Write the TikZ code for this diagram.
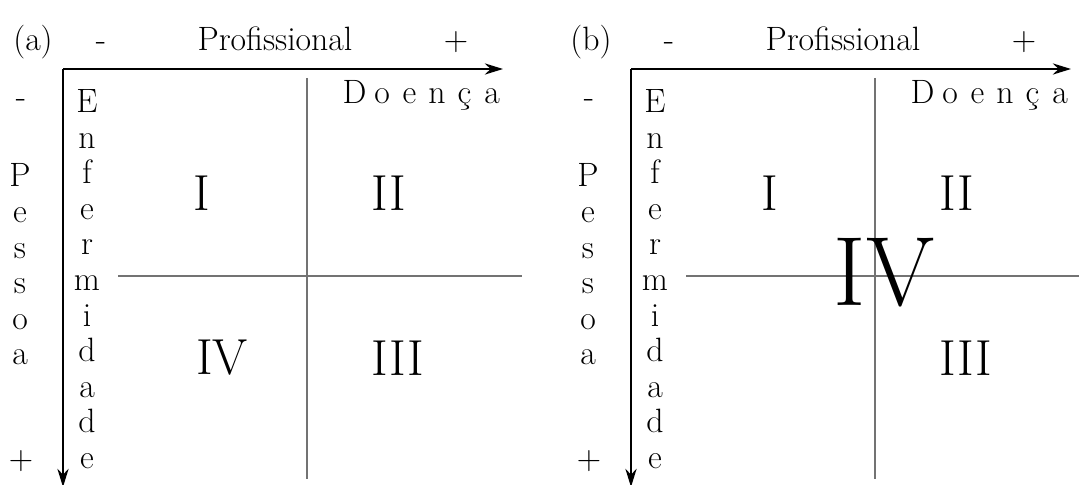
\documentclass[tikz,border=0pt]{standalone}
\usepackage{fontspec}
\usetikzlibrary{arrows.meta}

\tikzset{
  rotulo/.style={font=\fontsize{24}{26}\selectfont, anchor=base, inner sep=0pt},
  numeral/.style={font=\fontsize{36}{40}\selectfont, inner sep=0pt},
  eixo/.style={line width=1.3pt, -{Stealth[length=13pt,width=8pt]}},
  divisor/.style={line width=0.8pt, black!55},
}

\begin{document}
\begin{tikzpicture}[x=0.025cm, y=-0.025cm]
\path[use as bounding box] (0,0) rectangle (1079,485);
% os dois quadros (a) e (b)
\foreach \p/\dx/\fim/\lx in {a/0/522/33, b/568/511/23} {
  \begin{scope}[shift={(\dx,0)}]
    \coordinate (o\p) at (63,69);
    \coordinate (x\p) at (503,69);
    \coordinate (y\p) at (63,487);
    \coordinate (v1\p) at (307,78);
    \coordinate (v2\p) at (307,479);
    \coordinate (h1\p) at (118,276);
    \coordinate (h2\p) at (\fim,276);
    \draw[eixo] (o\p) -- (x\p);
    \draw[eixo] (o\p) -- (y\p);
    \draw[divisor] (v1\p) -- (v2\p);
    \draw[divisor] (h1\p) -- (h2\p);
    \node[rotulo] (painel\p) at (\lx,51) {(\p)};
    \node[rotulo] (menosx\p) at (101,51) {-};
    \node[rotulo] (prof\p) at (275,51) {Profissional};
    \node[rotulo] (maisx\p) at (456,51) {+};
    \node[rotulo] (menosy\p) at (21,108) {-};
    \node[rotulo] (maisy\p) at (21,469) {+};
    \foreach \l [count=\i] in {D,o,e,n,ç,a}
      \node[rotulo] (doe\p\i) at (327+27.5*\i,104) {\l};
    \foreach \l [count=\i from 0] in {E,n,f,e,r,m,i,d,a,d,e}
      \node[rotulo] (enf\p\i) at (87,113+35.5*\i) {\l};
    \foreach \l [count=\i from 2] in {P,e,s,s,o,a}
      \node[rotulo] (pes\p\i) at (20,116+35.5*\i) {\l};
    \node[numeral] (q1\p) at (202,193) {I};
    \node[numeral] (q2\p) at (389,193) {II};
    \node[numeral] (q3\p) at (398,358) {III};
  \end{scope}
}
\node[numeral] (q4a) at (222,358) {IV};
\node[numeral, font=\fontsize{70}{72}\selectfont] (q4b) at (884,273) {IV};
\end{tikzpicture}
\end{document}
